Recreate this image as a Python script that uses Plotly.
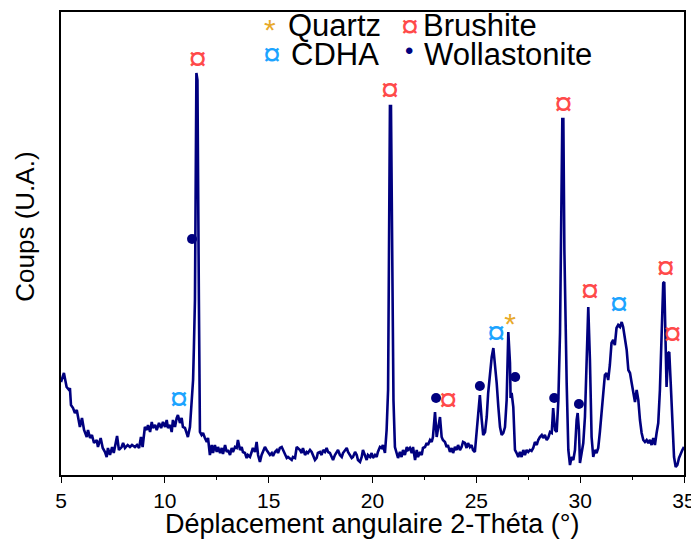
import plotly.graph_objects as go

# ---- XRD pattern (2-theta in degrees, counts in arbitrary units) ----
two_theta = [
    5.00, 5.03, 5.14, 5.27, 5.39, 5.43, 5.48, 5.58, 5.67, 5.76, 5.82, 5.91, 6.01, 6.11, 6.24, 6.30,
    6.40, 6.49, 6.59, 6.72, 6.78, 6.91, 7.01, 7.12, 7.20, 7.26, 7.36, 7.46, 7.54, 7.63, 7.70, 7.79,
    7.92, 7.99, 8.08, 8.21, 8.32, 8.42, 8.56, 8.66, 8.76, 8.85, 8.93, 9.04, 9.13, 9.19, 9.29, 9.37,
    9.43, 9.53, 9.61, 9.72, 9.82, 9.91, 10.01, 10.09, 10.15, 10.25, 10.33, 10.39, 10.49, 10.57, 10.63,
    10.73, 10.81, 10.87, 10.97, 11.05, 11.11, 11.21, 11.29, 11.36, 11.40, 11.45, 11.52, 11.57, 11.64,
    11.67, 11.69, 11.77, 11.84, 11.93, 12.02, 12.08, 12.17, 12.26, 12.32, 12.41, 12.50, 12.56, 12.66,
    12.74, 12.80, 12.90, 12.98, 13.04, 13.14, 13.22, 13.28, 13.38, 13.46, 13.52, 13.62, 13.70, 13.76,
    13.86, 13.94, 14.00, 14.10, 14.18, 14.24, 14.34, 14.42, 14.49, 14.58, 14.66, 14.73, 14.82, 14.90,
    14.97, 15.06, 15.15, 15.21, 15.30, 15.39, 15.45, 15.54, 15.63, 15.69, 15.79, 15.87, 15.93, 16.03,
    16.11, 16.17, 16.27, 16.35, 16.41, 16.51, 16.59, 16.65, 16.75, 16.83, 16.89, 16.99, 17.07, 17.13,
    17.23, 17.31, 17.37, 17.47, 17.55, 17.62, 17.71, 17.79, 17.86, 17.95, 18.03, 18.10, 18.19, 18.28,
    18.34, 18.43, 18.52, 18.58, 18.67, 18.76, 18.82, 18.92, 19.00, 19.06, 19.16, 19.24, 19.30, 19.40,
    19.48, 19.54, 19.64, 19.72, 19.78, 19.88, 19.96, 20.02, 20.12, 20.20, 20.26, 20.36, 20.44, 20.50,
    20.60, 20.68, 20.75, 20.79, 20.84, 20.89, 20.96, 21.01, 21.08, 21.16, 21.23, 21.32, 21.40, 21.47,
    21.56, 21.65, 21.71, 21.80, 21.89, 21.95, 22.05, 22.13, 22.19, 22.29, 22.37, 22.43, 22.53, 22.61,
    22.67, 22.77, 22.85, 22.91, 23.01, 23.09, 23.17, 23.25, 23.33, 23.39, 23.49, 23.57, 23.63, 23.73,
    23.81, 23.88, 23.97, 24.05, 24.12, 24.21, 24.29, 24.36, 24.45, 24.53, 24.60, 24.69, 24.77, 24.84,
    24.93, 25.02, 25.09, 25.17, 25.26, 25.33, 25.42, 25.50, 25.57, 25.66, 25.74, 25.82, 25.90, 25.98,
    26.06, 26.14, 26.22, 26.30, 26.38, 26.46, 26.54, 26.62, 26.65, 26.70, 26.78, 26.86, 26.94, 27.02,
    27.10, 27.18, 27.26, 27.34, 27.42, 27.50, 27.58, 27.66, 27.74, 27.82, 27.91, 27.98, 28.06, 28.15,
    28.22, 28.30, 28.39, 28.46, 28.55, 28.63, 28.70, 28.79, 28.87, 28.95, 29.03, 29.08, 29.14, 29.19,
    29.24, 29.35, 29.43, 29.51, 29.59, 29.67, 29.75, 29.83, 29.88, 29.94, 29.99, 30.07, 30.15, 30.23,
    30.31, 30.39, 30.47, 30.55, 30.63, 30.71, 30.79, 30.87, 30.95, 31.03, 31.11, 31.19, 31.27, 31.35,
    31.43, 31.51, 31.59, 31.67, 31.75, 31.83, 31.92, 32.00, 32.07, 32.16, 32.24, 32.32, 32.40, 32.48,
    32.56, 32.64, 32.72, 32.80, 32.88, 32.96, 33.04, 33.12, 33.20, 33.28, 33.36, 33.44, 33.52, 33.60,
    33.68, 33.76, 33.84, 33.92, 34.00, 34.05, 34.11, 34.16, 34.24, 34.29, 34.36, 34.45, 34.52, 34.60,
    34.68, 34.76, 34.86, 34.92, 35.00,
]
counts = [
    930, 950, 1020, 880, 850, 870, 700, 670, 620, 650, 580, 480, 570, 450, 380, 450,
    370, 400, 320, 350, 280, 370, 270, 230, 180, 270, 200, 280, 220, 320, 390, 250,
    280, 320, 270, 300, 280, 300, 280, 300, 270, 380, 280, 480, 450, 500, 430, 530,
    470, 500, 450, 520, 470, 530, 480, 550, 470, 500, 430, 550, 480, 570, 600,
    520, 570, 480, 470, 420, 380, 480, 720, 950, 1280, 1750, 4020, 3950, 1750,
    550, 430, 400, 420, 370, 330, 370, 200, 300, 220, 300, 230, 280, 220,
    270, 210, 300, 230, 250, 200, 270, 230, 280, 270, 350, 250, 280, 230,
    220, 170, 200, 180, 230, 270, 230, 330, 200, 130, 200, 230, 280, 250,
    230, 200, 220, 190, 230, 250, 220, 270, 280, 250, 200, 170, 180, 160,
    150, 180, 170, 280, 270, 250, 220, 270, 200, 230, 220, 250, 230, 200,
    150, 170, 220, 230, 200, 250, 230, 270, 230, 220, 170, 150, 200, 230,
    250, 200, 180, 220, 250, 270, 230, 200, 170, 180, 230, 200, 150, 130,
    180, 250, 200, 150, 200, 180, 220, 170, 200, 180, 230, 280, 270, 300,
    220, 450, 850, 2250, 3690, 3690, 2250, 750, 280, 220, 170, 230, 180, 250,
    200, 280, 250, 270, 220, 280, 150, 250, 180, 230, 200, 270, 280, 320,
    300, 350, 330, 380, 630, 380, 470, 580, 380, 350, 330, 280, 300, 230,
    270, 220, 280, 250, 300, 250, 280, 330, 320, 270, 320, 280, 300, 250,
    230, 420, 620, 800, 550, 400, 430, 580, 820, 1020, 1180, 1270, 1120, 920,
    680, 480, 400, 420, 480, 750, 1430, 1120, 770, 820, 680, 250, 220, 180,
    230, 180, 250, 200, 250, 230, 250, 240, 270, 330, 300, 350, 380, 400,
    370, 400, 350, 370, 430, 420, 670, 450, 430, 750, 1420, 2250, 3560, 3560,
    2250, 920, 250, 100, 180, 150, 250, 550, 620, 450, 120, 220, 320, 580,
    1150, 1680, 1150, 380, 180, 250, 220, 270, 430, 650, 850, 1000, 1020, 950,
    1100, 1320, 1350, 1300, 1470, 1500, 1480, 1530, 1480, 1350, 1250, 1050, 1020, 920,
    820, 730, 850, 750, 550, 420, 350, 330, 350, 320, 350, 300, 370, 300,
    420, 520, 850, 1420, 1920, 1930, 1420, 880, 1220, 1230, 920, 420, 180, 80,
    100, 170, 230, 250, 280,
]

# ---- Phase identification labels ----
brushite_2theta = [11.58, 20.84, 23.65, 29.19, 30.47, 34.12, 34.44]
brushite_counts = [4130, 3820, 720, 3680, 1810, 2040, 1380]
cdha_2theta = [10.68, 25.95, 31.87]
cdha_counts = [730, 1390, 1680]
quartz_2theta = [26.62]
quartz_counts = [1490]
wollastonite_2theta = [11.31, 23.06, 25.17, 26.87, 28.75, 29.94]
wollastonite_counts = [2360, 770, 890, 980, 770, 710]

x_ticks = [5, 10, 15, 20, 25, 30, 35]
legend_labels = ["Quartz", "Brushite", "CDHA", "Wollastonite"]
x_title = "Déplacement angulaire 2-Théta (°)"
y_title = "Coups (U.A.)"

NAVY = "#00007f"
RED = "#ff4a4a"
BLUE = "#1ca4ff"
GOLD = "#e8a92a"
FONT = "Liberation Sans, Arial, sans-serif"

fig = go.Figure()
fig.add_trace(go.Scatter(x=two_theta, y=counts, mode="lines",
                         line=dict(color=NAVY, width=2.6), showlegend=False, hoverinfo="skip"))
fig.add_trace(go.Scatter(x=brushite_2theta, y=brushite_counts, mode="text", text=["¤"] * len(brushite_2theta),
                         textfont=dict(color=RED, size=33, family=FONT), textposition="middle center",
                         showlegend=False))
fig.add_trace(go.Scatter(x=cdha_2theta, y=cdha_counts, mode="text", text=["¤"] * len(cdha_2theta),
                         textfont=dict(color=BLUE, size=33, family=FONT), textposition="middle center",
                         showlegend=False))
fig.add_trace(go.Scatter(x=quartz_2theta, y=quartz_counts, mode="text", text=["*"] * len(quartz_2theta),
                         textfont=dict(color=GOLD, size=30, family=FONT), textposition="middle center",
                         showlegend=False))
fig.add_trace(go.Scatter(x=wollastonite_2theta, y=wollastonite_counts, mode="markers",
                         marker=dict(color=NAVY, size=10), showlegend=False))

# ---- legend built from text ----
legend_items = [
    ("*", GOLD, 0.3355, 0.962, legend_labels[0], 0.3628, 0.970),
    ("¤", RED, 0.5594, 0.970, legend_labels[1], 0.5795, 0.970),
    ("¤", BLUE, 0.3379, 0.909, legend_labels[2], 0.3676, 0.909),
    ("•", NAVY, 0.5578, 0.916, legend_labels[3], 0.5811, 0.909),
]
for sym, col, sx, sy, lab, lx, ly in legend_items:
    fig.add_annotation(x=sx, y=sy, xref="paper", yref="paper", text=sym, showarrow=False,
                       font=dict(color=col, size=32 if sym == "¤" else (30 if sym == "*" else 24), family=FONT),
                       xanchor="center", yanchor="middle", borderpad=0)
    fig.add_annotation(x=lx, y=ly, xref="paper", yref="paper", text=lab, showarrow=False,
                       font=dict(color="black", size=31, family=FONT),
                       xanchor="left", yanchor="middle", borderpad=0)

# axis titles
fig.add_annotation(x=0.5, y=-0.106, xref="paper", yref="paper", text=x_title, showarrow=False,
                   font=dict(color="black", size=27, family=FONT), xanchor="center", yanchor="middle",
                   borderpad=0)
fig.add_annotation(x=-0.058, y=0.536, xref="paper", yref="paper", text=y_title, showarrow=False,
                   textangle=-90, font=dict(color="black", size=26, family=FONT),
                   xanchor="center", yanchor="middle", borderpad=0)

# The page body has an 8px default margin; size the figure so the plot area
# lands where the reference puts it inside the 699x543 window.
fig.update_layout(
    width=691, height=535,
    margin=dict(l=53, r=15, t=4, b=68, autoexpand=False),
    plot_bgcolor="white", paper_bgcolor="white",
    font=dict(family=FONT, color="black"),
)
fig.update_xaxes(range=[5, 35], tickvals=x_ticks, ticktext=[str(v) for v in x_ticks],
                 showline=True, linecolor="black", linewidth=1.5, mirror=True,
                 ticks="outside", ticklen=6, tickwidth=1.3, tickcolor="black",
                 minor=dict(dtick=2.5, ticks="outside", ticklen=3, tickwidth=1.3, tickcolor="black"),
                 showgrid=False, zeroline=False, tickfont=dict(size=21), automargin=False)
fig.update_yaxes(range=[0, 4630], showline=True, linecolor="black", linewidth=1.5, mirror=True,
                 showticklabels=False, ticks="", showgrid=False, zeroline=False, automargin=False)

fig.write_html("out.html")
